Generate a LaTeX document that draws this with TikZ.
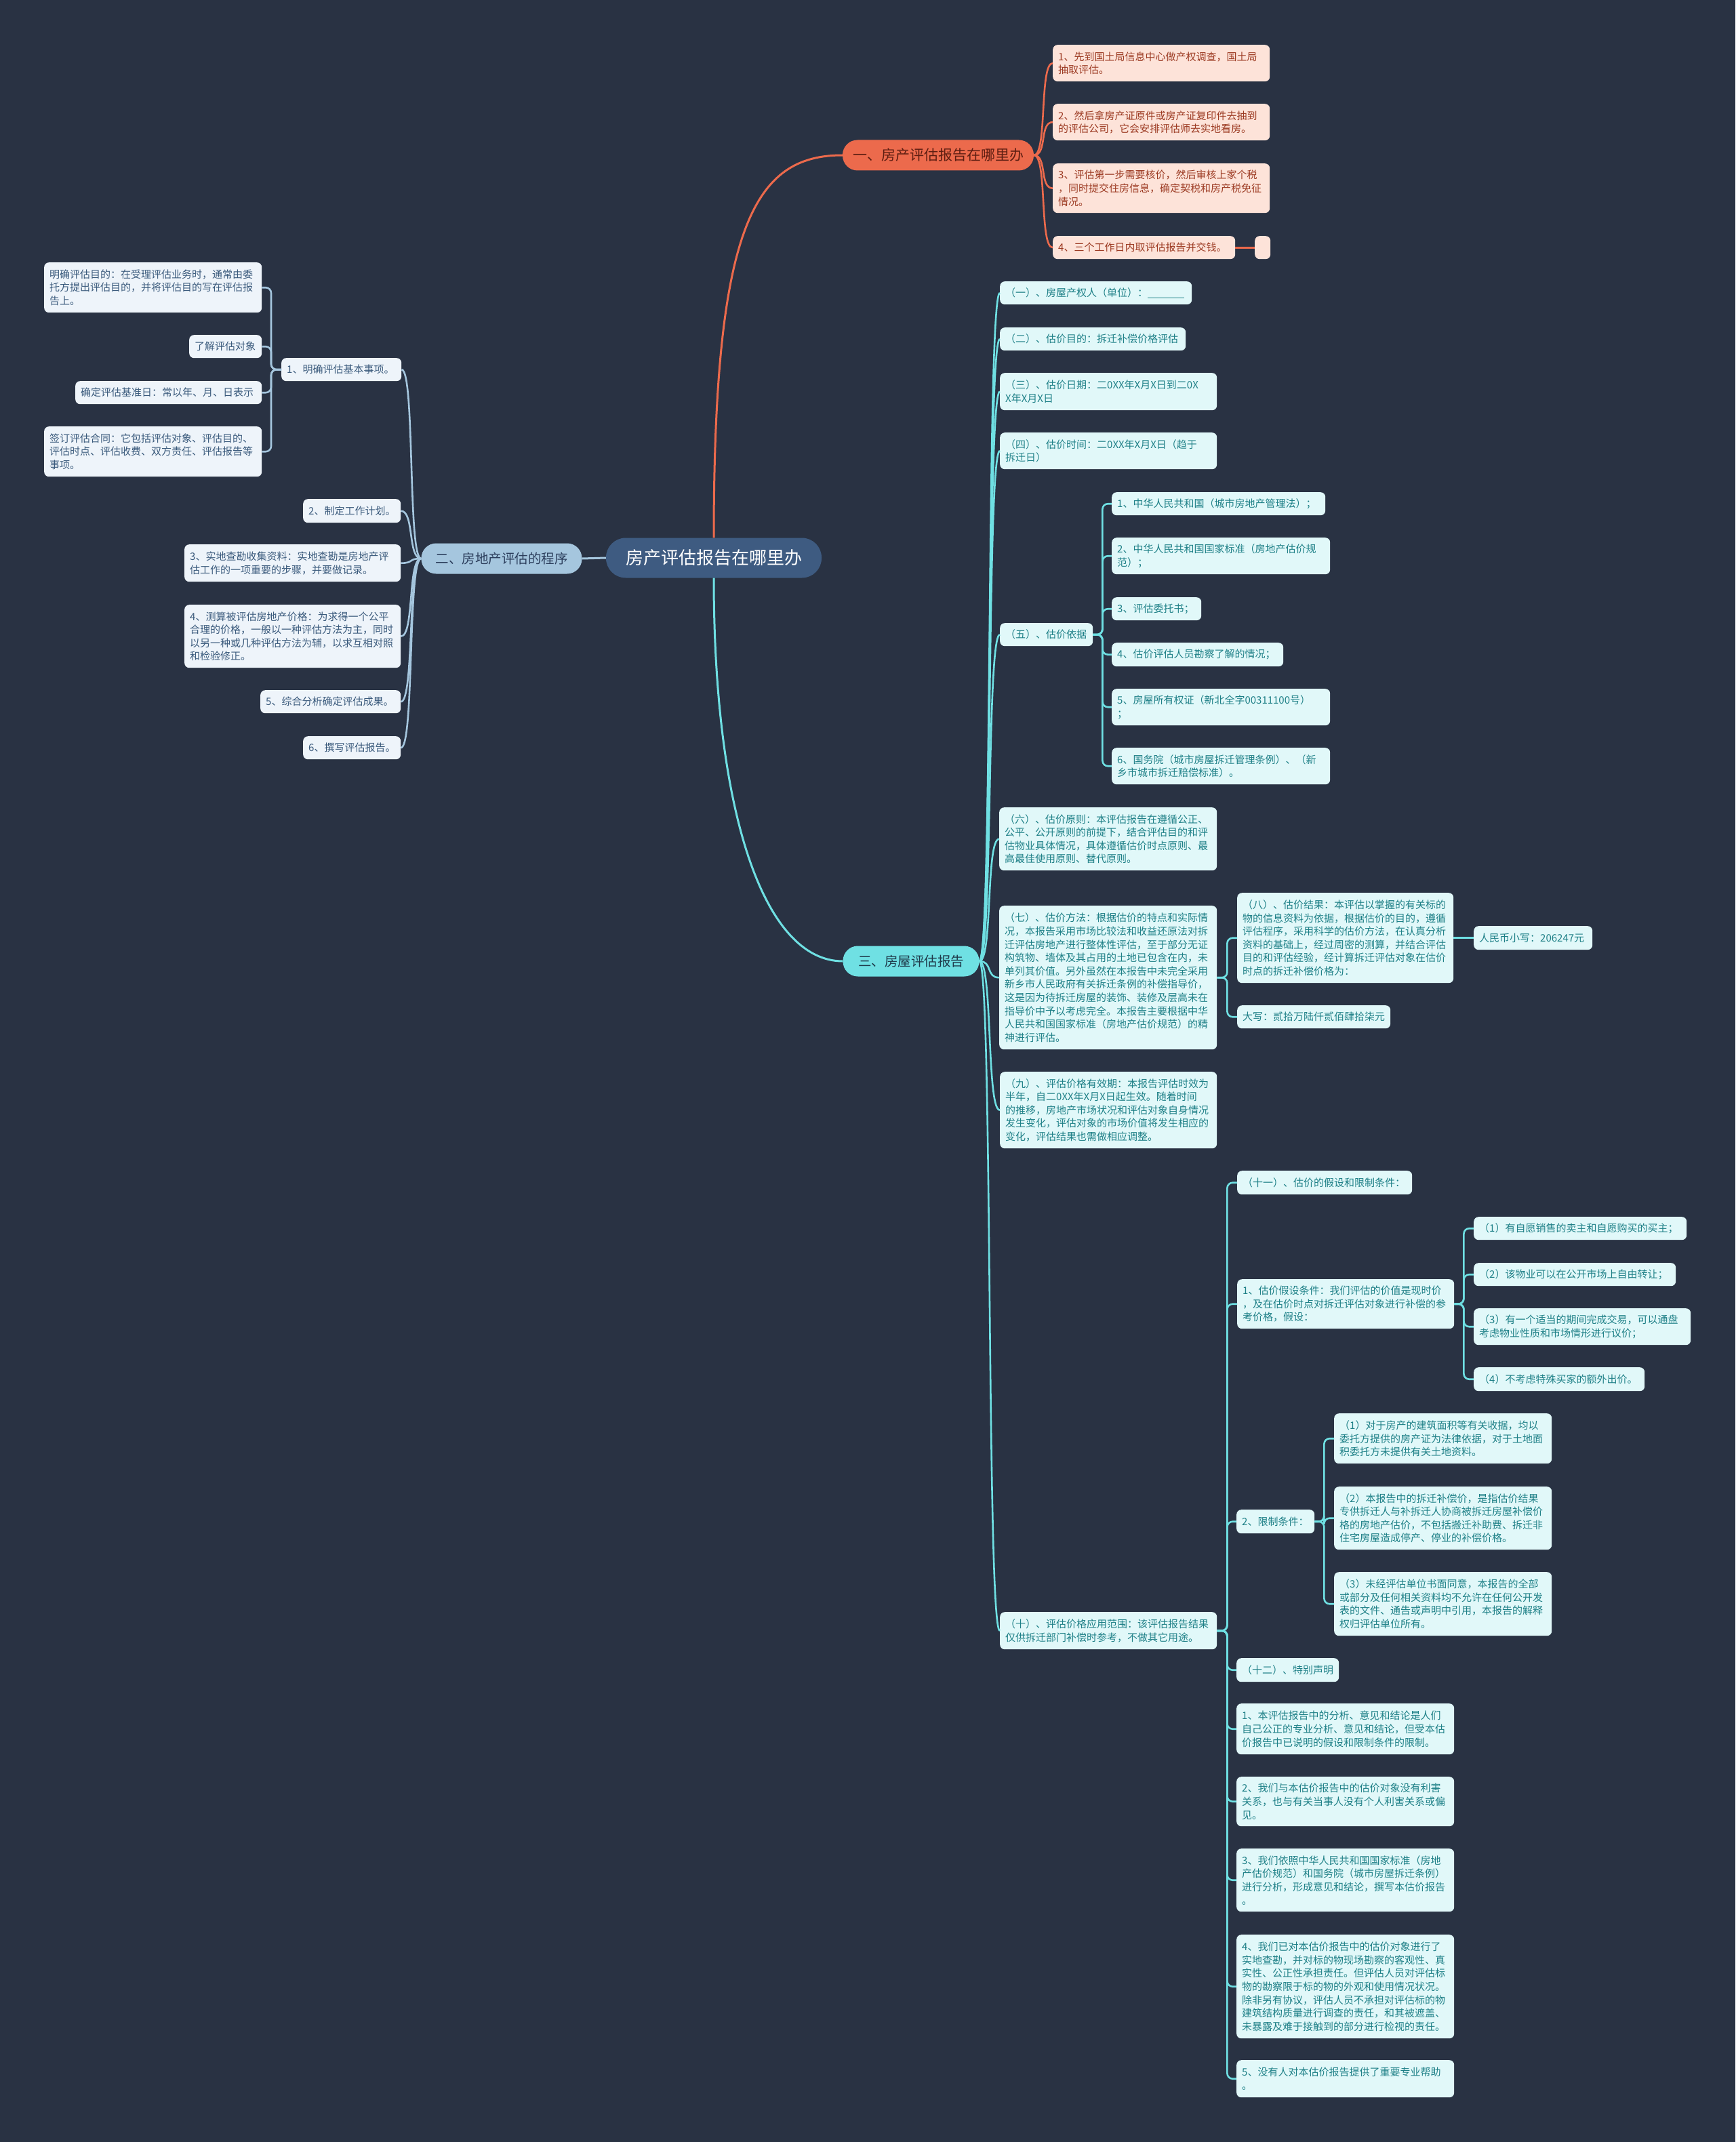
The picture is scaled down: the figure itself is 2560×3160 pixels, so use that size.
\documentclass[tikz,border=0pt]{standalone}
\usepackage{fontspec}
\setmainfont{Noto Sans CJK SC}
\usetikzlibrary{positioning}

\definecolor{bgdark}{HTML}{293243}
\definecolor{rootblue}{HTML}{3E5B81}
\definecolor{orangemain}{HTML}{EC6A4C}
\definecolor{orangedark}{HTML}{5E1E12}
\definecolor{orangepale}{HTML}{FDE3D9}
\definecolor{orangetext}{HTML}{9C3A22}
\definecolor{bluemain}{HTML}{A5C6DE}
\definecolor{bluedark}{HTML}{2C3E5C}
\definecolor{bluepale}{HTML}{EEF4FA}
\definecolor{bluetext}{HTML}{3A5A7C}
\definecolor{cyanmain}{HTML}{6FE0E3}
\definecolor{cyandark}{HTML}{1F3A4A}
\definecolor{cyanpale}{HTML}{E1F8F9}
\definecolor{cyantext}{HTML}{1E8087}

\begin{document}
\begin{tikzpicture}[x=1pt, y=-1pt,
    rootnode/.style={fill=rootblue, text=white, rounded corners=29pt, minimum width=318pt, minimum height=59pt, inner xsep=0pt, font=\fontsize{26pt}{30pt}\selectfont},
    branchnode/.style={rounded corners=22pt, minimum height=45pt, inner xsep=0pt, font=\fontsize{19.5pt}{24pt}\selectfont},
    leaf/.style={anchor=north west, rounded corners=7pt, inner xsep=8pt, inner ysep=0pt, align=left, font=\fontsize{15pt}{19.6pt}\selectfont},
    orangeleaf/.style={leaf, fill=orangepale, text=orangetext},
    blueleaf/.style={leaf, fill=bluepale, text=bluetext},
    cyanleaf/.style={leaf, fill=cyanpale, text=cyantext},
    orangeline/.style={draw=orangemain, line width=2.6pt},
    blueline/.style={draw=bluemain, line width=2.6pt},
    cyanline/.style={draw=cyanmain, line width=2.6pt},
    elbow/.style={rounded corners=8pt}
]
% background
\fill[bgdark] (0,0) rectangle (2560,3160);

% root
\node[rootnode] (root) at (1053,823) {房产评估报告在哪里办};

% branch one
\node[branchnode, fill=orangemain, text=orangedark, minimum width=282pt, font=\fontsize{21pt}{24pt}\selectfont] (b1) at (1384,229) {一、房产评估报告在哪里办};
\node[orangeleaf, text width=304pt, minimum height=54pt] (o1) at (1553,66) {1、先到国土局信息中心做产权调查，国土局\\抽取评估。};
\node[orangeleaf, text width=304pt, minimum height=54pt] (o2) at (1553,153) {2、然后拿房产证原件或房产证复印件去抽到\\的评估公司，它会安排评估师去实地看房。};
\node[orangeleaf, text width=304pt, minimum height=73pt] (o3) at (1553,241) {3、评估第一步需要核价，然后审核上家个税\\，同时提交住房信息，确定契税和房产税免征\\情况。};
\node[orangeleaf, text width=253pt, minimum height=34pt] (o4) at (1553,348) {4、三个工作日内取评估报告并交钱。};
\node[orangeleaf, text width=7pt, minimum height=34pt] (o5) at (1851,348) {};

% branch two
\node[branchnode, fill=bluemain, text=bluedark, minimum width=237pt] (b2) at (740,824) {二、房地产评估的程序};
\node[blueleaf, text width=161pt, minimum height=34pt] (s1) at (415,528) {1、明确评估基本事项。};
\node[blueleaf, text width=305pt, minimum height=74pt] (s11) at (65,387) {明确评估目的：在受理评估业务时，通常由委\\托方提出评估目的，并将评估目的写在评估报\\告上。};
\node[blueleaf, text width=91pt, minimum height=34pt] (s12) at (279,494) {了解评估对象};
\node[blueleaf, text width=259pt, minimum height=34pt] (s13) at (111,562) {确定评估基准日：常以年、月、日表示};
\node[blueleaf, text width=305pt, minimum height=74pt] (s14) at (65,629) {签订评估合同：它包括评估对象、评估目的、\\评估时点、评估收费、双方责任、评估报告等\\事项。};
\node[blueleaf, text width=128pt, minimum height=35pt] (s2) at (447,736) {2、制定工作计划。};
\node[blueleaf, text width=303pt, minimum height=55pt] (s3) at (272,803) {3、实地查勘收集资料：实地查勘是房地产评\\估工作的一项重要的步骤，并要做记录。};
\node[blueleaf, text width=303pt, minimum height=93pt] (s4) at (272,892) {4、测算被评估房地产价格：为求得一个公平\\合理的价格，一般以一种评估方法为主，同时\\以另一种或几种评估方法为辅，以求互相对照\\和检验修正。};
\node[blueleaf, text width=191pt, minimum height=34pt] (s5) at (384,1018) {5、综合分析确定评估成果。};
\node[blueleaf, text width=128pt, minimum height=34pt] (s6) at (447,1086) {6、撰写评估报告。};

% branch three
\node[branchnode, fill=cyanmain, text=cyandark, minimum width=201pt] (b3) at (1344,1418) {三、房屋评估报告};
\node[cyanleaf, text width=267pt, minimum height=34pt] (c1) at (1475,415) {（一）、房屋产权人（单位）：\rule[-2pt]{54pt}{0.9pt}};
\node[cyanleaf, text width=258pt, minimum height=34pt] (c2) at (1475,483) {（二）、估价目的：拆迁补偿价格评估};
\node[cyanleaf, text width=304pt, minimum height=55pt] (c3) at (1475,550) {（三）、估价日期：二0XX年X月X日到二0X\\X年X月X日};
\node[cyanleaf, text width=304pt, minimum height=54pt] (c4) at (1475,638) {（四）、估价时间：二0XX年X月X日（趋于\\拆迁日）};
\node[cyanleaf, text width=121pt, minimum height=34pt] (c5) at (1475,919) {（五）、估价依据};
\node[cyanleaf, text width=299pt, minimum height=34pt] (c51) at (1640,726) {1、中华人民共和国（城市房地产管理法）；};
\node[cyanleaf, text width=306pt, minimum height=54pt] (c52) at (1640,793) {2、中华人民共和国国家标准（房地产估价规\\范）；};
\node[cyanleaf, text width=116pt, minimum height=34pt] (c53) at (1640,881) {3、评估委托书；};
\node[cyanleaf, text width=237pt, minimum height=35pt] (c54) at (1640,948) {4、估价评估人员勘察了解的情况；};
\node[cyanleaf, text width=306pt, minimum height=54pt] (c55) at (1640,1016) {5、房屋所有权证（新北全字00311100号）\\；};
\node[cyanleaf, text width=306pt, minimum height=54pt] (c56) at (1640,1103) {6、国务院（城市房屋拆迁管理条例）、（新\\乡市城市拆迁赔偿标准）。};
\node[cyanleaf, text width=305pt, minimum height=93pt] (c6) at (1474,1191) {（六）、估价原则：本评估报告在遵循公正、\\公平、公开原则的前提下，结合评估目的和评\\估物业具体情况，具体遵循估价时点原则、最\\高最佳使用原则、替代原则。};
\node[cyanleaf, text width=305pt, minimum height=212pt] (c7) at (1474,1336) {（七）、估价方法：根据估价的特点和实际情\\况，本报告采用市场比较法和收益还原法对拆\\迁评估房地产进行整体性评估，至于部分无证\\构筑物、墙体及其占用的土地已包含在内，未\\单列其价值。另外虽然在本报告中未完全采用\\新乡市人民政府有关拆迁条例的补偿指导价，\\这是因为待拆迁房屋的装饰、装修及层高未在\\指导价中予以考虑完全。本报告主要根据中华\\人民共和国国家标准（房地产估价规范）的精\\神进行评估。};
\node[cyanleaf, text width=303pt, minimum height=133pt] (c8) at (1825,1317) {（八）、估价结果：本评估以掌握的有关标的\\物的信息资料为依据，根据估价的目的，遵循\\评估程序，采用科学的估价方法，在认真分析\\资料的基础上，经过周密的测算，并结合评估\\目的和评估经验，经计算拆迁评估对象在估价\\时点的拆迁补偿价格为：};
\node[cyanleaf, text width=159pt, minimum height=35pt] (c81) at (2174,1366) {人民币小写：206247元};
\node[cyanleaf, text width=210pt, minimum height=34pt] (c7b) at (1825,1483) {大写：贰拾万陆仟贰佰肆拾柒元};
\node[cyanleaf, text width=304pt, minimum height=113pt] (c9) at (1475,1581) {（九）、评估价格有效期：本报告评估时效为\\半年，自二0XX年X月X日起生效。随着时间\\的推移，房地产市场状况和评估对象自身情况\\发生变化，评估对象的市场价值将发生相应的\\变化，评估结果也需做相应调整。};
\node[cyanleaf, text width=304pt, minimum height=55pt] (c10) at (1475,2378) {（十）、评估价格应用范围：该评估报告结果\\仅供拆迁部门补偿时参考，不做其它用途。};

% under (十)
\node[cyanleaf, text width=242pt, minimum height=35pt] (c11) at (1825,1727) {（十一）、估价的假设和限制条件：};
\node[cyanleaf, text width=304pt, minimum height=73pt] (h1) at (1825,1887) {1、估价假设条件：我们评估的价值是现时价\\，及在估价时点对拆迁评估对象进行补偿的参\\考价格，假设：};
\node[cyanleaf, text width=298pt, minimum height=34pt] (h11) at (2174,1795) {（1）有自愿销售的卖主和自愿购买的买主；};
\node[cyanleaf, text width=282pt, minimum height=34pt] (h12) at (2174,1863) {（2）该物业可以在公开市场上自由转让；};
\node[cyanleaf, text width=304pt, minimum height=54pt] (h13) at (2174,1930) {（3）有一个适当的期间完成交易，可以通盘\\考虑物业性质和市场情形进行议价；};
\node[cyanleaf, text width=236pt, minimum height=35pt] (h14) at (2174,2017) {（4）不考虑特殊买家的额外出价。};
\node[cyanleaf, text width=99pt, minimum height=35pt] (h2) at (1824,2227) {2、限制条件：};
\node[cyanleaf, text width=305pt, minimum height=74pt] (h21) at (1968,2085) {（1）对于房产的建筑面积等有关收据，均以\\委托方提供的房产证为法律依据，对于土地面\\积委托方未提供有关土地资料。};
\node[cyanleaf, text width=305pt, minimum height=93pt] (h22) at (1968,2193) {（2）本报告中的拆迁补偿价，是指估价结果\\专供拆迁人与补拆迁人协商被拆迁房屋补偿价\\格的房地产估价，不包括搬迁补助费、拆迁非\\住宅房屋造成停产、停业的补偿价格。};
\node[cyanleaf, text width=305pt, minimum height=94pt] (h23) at (1968,2319) {（3）未经评估单位书面同意，本报告的全部\\或部分及任何相关资料均不允许在任何公开发\\表的文件、通告或声明中引用，本报告的解释\\权归评估单位所有。};
\node[cyanleaf, text width=135pt, minimum height=35pt] (c12) at (1824,2446) {（十二）、特别声明};
\node[cyanleaf, text width=305pt, minimum height=75pt] (d1) at (1824,2513) {1、本评估报告中的分析、意见和结论是人们\\自己公正的专业分析、意见和结论，但受本估\\价报告中已说明的假设和限制条件的限制。};
\node[cyanleaf, text width=305pt, minimum height=73pt] (d2) at (1824,2621) {2、我们与本估价报告中的估价对象没有利害\\关系，也与有关当事人没有个人利害关系或偏\\见。};
\node[cyanleaf, text width=305pt, minimum height=93pt] (d3) at (1824,2727) {3、我们依照中华人民共和国国家标准（房地\\产估价规范）和国务院（城市房屋拆迁条例）\\进行分析，形成意见和结论，撰写本估价报告\\。};
\node[cyanleaf, text width=305pt, minimum height=153pt] (d4) at (1824,2854) {4、我们已对本估价报告中的估价对象进行了\\实地查勘，并对标的物现场勘察的客观性、真\\实性、公正性承担责任。但评估人员对评估标\\物的勘察限于标的物的外观和使用情况状况。\\除非另有协议，评估人员不承担对评估标的物\\建筑结构质量进行调查的责任，和其被遮盖、\\未暴露及难于接触到的部分进行检视的责任。};
\node[cyanleaf, text width=305pt, minimum height=55pt] (d5) at (1824,3039) {5、没有人对本估价报告提供了重要专业帮助\\。};

% root to branches
\draw[orangeline, line width=3pt] (root.north) .. controls +(0,-460) and +(-130,0) .. (b1.west);
\draw[blueline, line width=3pt] (root.west) -- (b2.east);
\draw[cyanline, line width=3pt] (root.south) .. controls +(0,350) and +(-115,0) .. (b3.west);

% branch one links
\foreach \k in {o1,o2,o3,o4}
    \draw[orangeline] (b1.east) .. controls +(20,0) and +(-20,0) .. (\k.west);
\draw[orangeline] (o4.east) -- (o5.west);

% branch two links
\foreach \k in {s1,s2,s3,s4,s5,s6}
    \draw[blueline] (b2.west) .. controls +(-20,0) and +(20,0) .. (\k.east);
\foreach \k in {s11,s12,s13,s14}
    \draw[blueline, elbow] (s1.west) -- ++(-15,0) |- (\k.east);

% branch three links
\foreach \k in {c1,c2,c3,c4,c5,c6,c7,c9,c10}
    \draw[cyanline] (b3.east) .. controls +(20,0) and +(-20,0) .. (\k.west);
\foreach \k in {c51,c52,c53,c54,c55,c56}
    \draw[cyanline, elbow] (c5.east) -- ++(14,0) |- (\k.west);
\foreach \k in {c8,c7b}
    \draw[cyanline, elbow] (c7.east) -- ++(15,0) |- (\k.west);
\draw[cyanline] (c8.east) -- (c81.west);
\foreach \k in {c11,h1,h2,c12,d1,d2,d3,d4,d5}
    \draw[cyanline, elbow] (c10.east) -- ++(15,0) |- (\k.west);
\foreach \k in {h11,h12,h13,h14}
    \draw[cyanline, elbow] (h1.east) -- ++(14,0) |- (\k.west);
\foreach \k in {h21,h22,h23}
    \draw[cyanline, elbow] (h2.east) -- ++(14,0) |- (\k.west);
\end{tikzpicture}
\end{document}
